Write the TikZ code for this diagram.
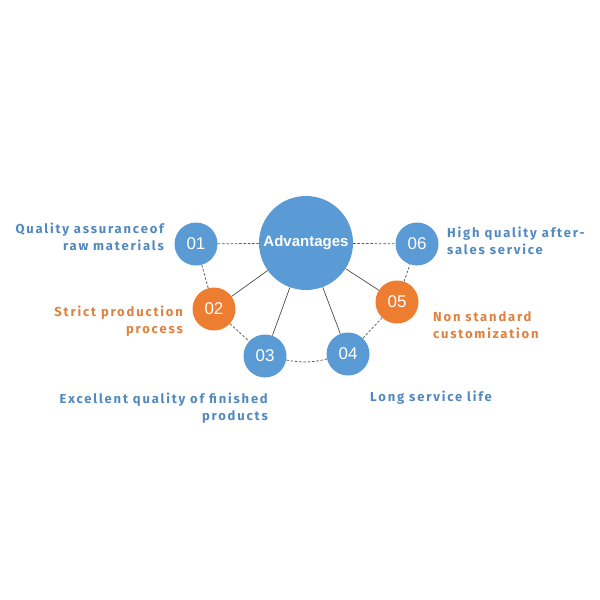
\documentclass[tikz,border=0pt]{standalone}
\usepackage{fontspec}
\setmainfont{Liberation Sans}
\newfontfamily\labelfont[LetterSpace=14]{Fira Sans}
\usetikzlibrary{positioning}
\definecolor{advblue}{HTML}{5B9BD5}
\definecolor{advorange}{HTML}{ED7D31}
\definecolor{txtblue}{HTML}{5289BF}
\definecolor{txtorange}{HTML}{E0813D}

\begin{document}
\begin{tikzpicture}[x=1pt,y=-1pt,
  hub/.style={circle,fill=advblue,text=white,minimum size=94pt,inner sep=0pt,font=\fontsize{15}{18}\selectfont\bfseries},
  num/.style={circle,fill=advblue,text=white,minimum size=43pt,inner sep=0pt,font=\fontsize{17}{20}\selectfont},
  numo/.style={num,fill=advorange},
  lbl/.style={text=txtblue,inner sep=0pt,font=\labelfont\fontsize{13}{17}\selectfont\bfseries},
  lblo/.style={lbl,text=txtorange},
  spoke/.style={draw=black!70,line width=0.7pt},
  link/.style={draw=black!65,line width=0.75pt,dash pattern=on 2.5pt off 1.8pt}]
  \useasboundingbox[fill=white] (0,0) rectangle (600,600);
  % hub and the six points round it
  \node[hub] (adv) at (306,243) {Advantages};
  \node[num]  (n1) at (196,244) {01};
  \node[numo] (n2) at (214,309) {02};
  \node[num]  (n3) at (265,356) {03};
  \node[num]  (n4) at (348,354) {04};
  \node[numo] (n5) at (397,302) {05};
  \node[num]  (n6) at (417,244) {06};
  % connectors
  \foreach \k in {n2,n3,n4,n5} \draw[spoke] (adv) -- (\k);
  \draw[link] (n1) -- (adv);
  \draw[link] (adv) -- (n6);
  \draw[link] (n1) -- (n2);
  \draw[link] (n2) -- (n3);
  \draw[link] (n3) to[bend right=12] (n4);
  \draw[link] (n4) -- (n5);
  \draw[link] (n5) -- (n6);
  % texts
  \node[lbl,align=right,anchor=east] (t1) at (164,237) {Quality assuranceof\\raw materials};
  \node[lblo,align=right,anchor=east] (t2) at (183,321) {Strict production\\process};
  \node[lbl,align=right,anchor=east] (t3) at (268,408) {Excellent quality of finished\\products};
  \node[lbl,align=left,anchor=west] (t4) at (370,398) {Long service life};
  \node[lblo,align=left,anchor=west] (t5) at (433,325) {Non standard\\customization};
  \node[lbl,align=left,anchor=west] (t6) at (447,241) {High quality after-\\sales service};
\end{tikzpicture}
\end{document}
